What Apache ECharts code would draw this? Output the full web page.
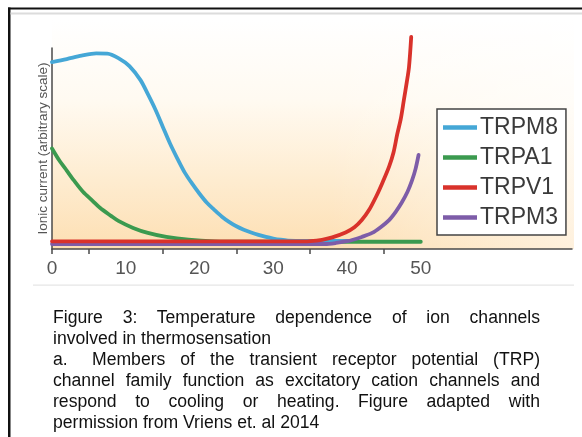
<!DOCTYPE html>
<html>
<head>
<meta charset="utf-8">
<script src="https://cdn.jsdelivr.net/npm/echarts@6/dist/echarts.min.js"></script>
<style>
  html, body { margin: 0; padding: 0; background: #ffffff; }
  #wrap { position: relative; width: 582px; height: 437px; overflow: hidden; }
  #chart { position: absolute; left: 0; top: 0; width: 582px; height: 437px; }
  #caption {
    position: absolute; left: 53px; top: 307px; width: 487px;
    font-family: "Liberation Sans", Arial, sans-serif; font-size: 17.6px;
    line-height: 21.1px; color: #111;
  }
  #caption .j { text-align: justify; text-align-last: justify; white-space: nowrap; }
  #caption .l { text-align: left; white-space: nowrap; }
  #caption .row { display: flex; }
  #caption .row .lead { width: 39px; flex: none; }
  #caption .row .rest { flex: 1; text-align: justify; text-align-last: justify; }
</style>
</head>
<body>
<div id="wrap">
  <div id="chart"></div>
  <div id="caption">
    <div class="j">Figure 3: Temperature dependence of ion channels</div>
    <div class="l">involved in thermosensation</div>
    <div class="row"><span class="lead">a.</span><span class="rest">Members of the transient receptor potential (TRP)</span></div>
    <div class="j">channel family function as excitatory cation channels and</div>
    <div class="j">respond to cooling or heating. Figure adapted with</div>
    <div class="l">permission from Vriens et. al 2014</div>
  </div>
</div>
<script>
// Temperature (°C) vs. ionic current, arbitrary units (0–100 spans the y axis)
const channelNames = ['TRPM8', 'TRPA1', 'TRPV1', 'TRPM3'];
const channelColors = ['#45a7d6', '#3b9a4f', '#d9322b', '#7d5ca8'];

const trpm8 = [
  [0, 93], [2, 94.5], [4, 96.2], [6, 97.3], [7.5, 97.2], [9, 95], [10.5, 91],
  [12, 84], [13, 77], [14, 69.5], [15, 61], [16, 52.5], [17, 45], [18, 38],
  [19, 32.5], [20, 27.5], [21, 23], [22, 19.5], [23, 16.2], [24, 13.5],
  [25, 11.3], [26, 9.6], [27, 8.2], [28, 7], [29, 6], [30, 5.2], [31, 4.6],
  [32, 4.2], [34, 4], [38, 4], [40, 4]
];
const trpa1 = [
  [0, 50], [1, 44], [2, 39], [3, 34], [4.2, 28.5], [5.5, 24], [6.5, 20.5],
  [8, 16.5], [9, 14], [11, 10.5], [13, 8], [15.5, 6], [18.5, 4.6], [22, 3.8],
  [26, 3.6], [50, 3.6]
];
const trpv1 = [
  [0, 3.8], [34, 3.8], [35, 3.9], [36.6, 4.6], [38, 5.8], [39.8, 8.2], [41, 10.8],
  [42, 14.4], [43, 19.5], [44, 26.5], [44.8, 33], [45.7, 41], [46.3, 48],
  [46.8, 57], [47.3, 65], [47.7, 74], [48.1, 83], [48.4, 90.5], [48.7, 105.5]
];
const trpm3 = [
  [0, 2.5], [37, 2.5], [38.5, 3], [40, 3.9], [40.7, 4.5], [42, 6], [43.4, 8],
  [44.6, 11], [45.7, 14.4], [46.6, 18.5], [47.4, 23], [48.2, 28.5], [48.8, 34],
  [49.3, 40], [49.7, 46.8]
];

const xLabelValues = [0, 10, 20, 30, 40, 50];
const xTickValues = [0, 5, 15, 25, 35, 45];
const yAxisTitle = 'Ionic current (arbitrary scale)';

const seriesData = { TRPM8: trpm8, TRPA1: trpa1, TRPV1: trpv1, TRPM3: trpm3 };
// stacking order: green at the back, red on top
const drawOrder = ['TRPA1', 'TRPM8', 'TRPM3', 'TRPV1'];

const chart = echarts.init(document.getElementById('chart'), null, { renderer: 'canvas' });

const axisGrey = '#4a4a4a';

chart.setOption({
  backgroundColor: '#ffffff',
  animation: false,
  grid: { left: 52, top: 48, right: 10, bottom: 188 },
  xAxis: {
    type: 'value',
    min: 0,
    max: 70.5,
    axisLine: { show: true, lineStyle: { color: axisGrey, width: 1.5 } },
    axisTick: {
      show: true, length: 5, inside: false,
      customValues: xTickValues,
      lineStyle: { color: axisGrey, width: 1.5 }
    },
    axisLabel: {
      customValues: xLabelValues,
      margin: 10,
      fontFamily: 'Liberation Sans, Arial, sans-serif',
      fontSize: 19,
      color: '#555555'
    },
    splitLine: { show: false }
  },
  yAxis: {
    type: 'value',
    min: 0,
    max: 100,
    name: yAxisTitle,
    nameLocation: 'middle',
    nameGap: 2,
    nameTextStyle: {
      fontFamily: 'Liberation Sans, Arial, sans-serif',
      fontSize: 13.5,
      color: '#555555'
    },
    axisLine: { show: true, lineStyle: { color: axisGrey, width: 1.5 } },
    axisTick: { show: false },
    axisLabel: { show: false },
    splitLine: { show: false }
  },
  legend: {
    orient: 'vertical',
    left: 437,
    top: 109,
    padding: [7, 8, 6, 6],
    backgroundColor: '#ffffff',
    borderColor: '#444444',
    borderWidth: 1.5,
    borderRadius: 0,
    icon: 'rect',
    itemWidth: 34,
    itemHeight: 4.5,
    itemGap: 7,
    data: channelNames,
    textStyle: {
      fontFamily: 'Liberation Sans, Arial, sans-serif',
      fontSize: 23,
      lineHeight: 23,
      color: '#3a3a3a',
      padding: [0, 0, 0, -2]
    }
  },
  graphic: {
    elements: [
      // warm backdrop behind the curves
      {
        type: 'rect', z: -10, silent: true,
        shape: { x: 52, y: 20, width: 522, height: 229 },
        style: {
          fill: new echarts.graphic.LinearGradient(0, 0, 0, 1, [
            { offset: 0, color: '#ffffff' },
            { offset: 0.35, color: '#fffaf1' },
            { offset: 0.7, color: '#feecd0' },
            { offset: 1, color: '#fddfb3' }
          ])
        }
      },
      {
        type: 'rect', z: -9, silent: true,
        shape: { x: 330, y: 20, width: 244, height: 229 },
        style: {
          fill: new echarts.graphic.LinearGradient(0, 0, 1, 0, [
            { offset: 0, color: 'rgba(255,255,255,0)' },
            { offset: 1, color: 'rgba(255,255,255,0.55)' }
          ])
        }
      },
      // frame lines
      { type: 'rect', silent: true, shape: { x: 8, y: 7.5, width: 574, height: 2 }, style: { fill: '#111111' } },
      { type: 'rect', silent: true, shape: { x: 8, y: 7.5, width: 2.5, height: 430 }, style: { fill: '#111111' } },
      { type: 'rect', silent: true, shape: { x: 10.5, y: 12.5, width: 572, height: 2 }, style: { fill: '#dcdcdc' } },
      { type: 'rect', silent: true, shape: { x: 33, y: 284.5, width: 541, height: 1.2 }, style: { fill: '#e6e6e6' } }
    ]
  },
  series: drawOrder.map(function (name) {
    const idx = channelNames.indexOf(name);
    return {
      name: name,
      type: 'line',
      data: seriesData[name],
      showSymbol: false,
      smooth: 0.3,
      clip: false,
      color: channelColors[idx],
      lineStyle: { color: channelColors[idx], width: 3.8, cap: 'round', join: 'round' },
      itemStyle: { color: channelColors[idx] },
      z: 2 + drawOrder.indexOf(name)
    };
  })
});
</script>
</body>
</html>
